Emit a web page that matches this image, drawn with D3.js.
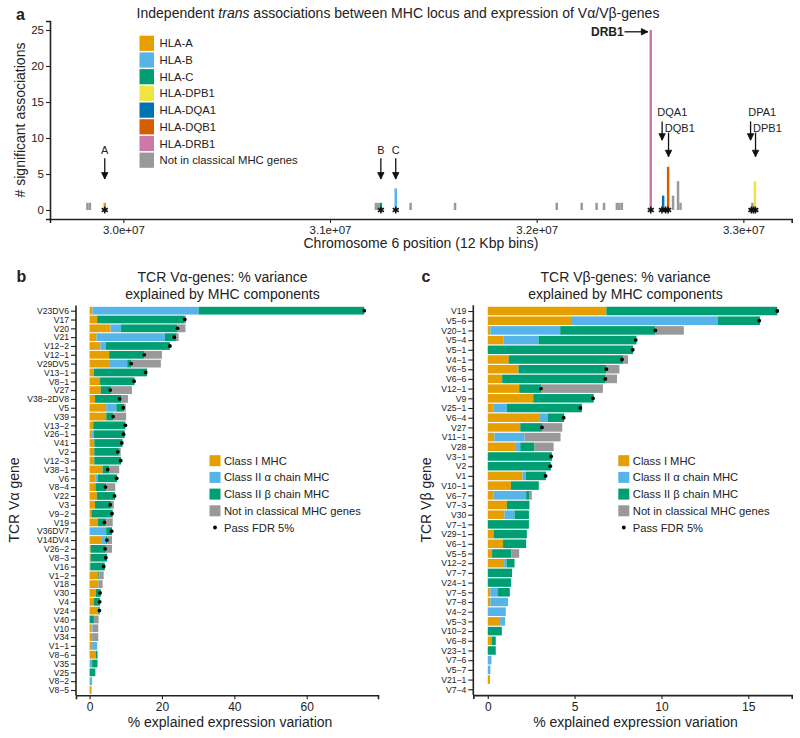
<!DOCTYPE html>
<html><head><meta charset="utf-8">
<script src="https://cdn.jsdelivr.net/npm/d3@7"></script>
<style>
body{margin:0;background:#fff}
svg{display:block}
text{font-family:"Liberation Sans",Arial,Helvetica,sans-serif;fill:#222}
</style>
</head><body>
<svg id="chart" width="800" height="738"></svg>
<script>
// ---------------- Panel a data ----------------
const binPosMb = [29.826, 29.838, 29.910, 31.222, 31.234, 31.246, 31.318, 31.390, 31.605, 32.097, 32.218, 32.290, 32.326, 32.388, 32.400, 32.412, 32.552, 32.612, 32.636, 32.660, 32.684, 32.696, 33.044, 33.056];
const binCount = [1, 1, 1, 1, 1, 1, 3, 1, 1, 1, 1, 1, 1, 1, 1, 1, 25, 2, 6, 2, 4, 1, 1, 4];
const binGene  = ["NA","NA","HLA-A","NA","NA","HLA-C","HLA-B","NA","NA","NA","NA","NA","NA","NA","NA","NA","HLA-DRB1","HLA-DQA1","HLA-DQB1","NA","NA","NA","NA","HLA-DPB1"];
const starPosMb = [29.910, 31.246, 31.318, 32.552, 32.606, 32.624, 32.636, 33.039, 33.049, 33.058];
const legendGenes = ["HLA-A","HLA-B","HLA-C","HLA-DPB1","HLA-DQA1","HLA-DQB1","HLA-DRB1","NA"];
const legendGeneLabels = ["HLA-A","HLA-B","HLA-C","HLA-DPB1","HLA-DQA1","HLA-DQB1","HLA-DRB1","Not in classical MHC genes"];
const geneColors = ["#E69F00","#56B4E9","#009E73","#F0E442","#0072B2","#D55E00","#CC79A7","#999999"];
const aTicks = [3.0e7, 3.1e7, 3.2e7, 3.3e7];
const aTickLabels = ["3.0e+07","3.1e+07","3.2e+07","3.3e+07"];
const aYTicks = [0, 5, 10, 15, 20, 25];

// ---------------- Panel b data (TCR V-alpha) ----------------
const alphaGenes = ["V23DV6","V17","V20","V21","V12−2","V12−1","V29DV5","V13−1","V8−1","V27","V38−2DV8","V5","V39","V13−2","V26−1","V41","V2","V12−3","V38−1","V6","V8−4","V22","V3","V9−2","V19","V36DV7","V14DV4","V26−2","V8−3","V16","V1−2","V18","V30","V4","V24","V40","V10","V34","V1−1","V8−6","V35","V25","V8−2","V8−5"];
const alphaClassI  = [0.8, 2.1, 5.8, 1.9, 3.0, 5.4, 5.4, 1.2, 2.9, 3.1, 1.5, 4.6, 4.6, 1.0, 0.7, 1.3, 1.3, 1.3, 3.6, 1.7, 1.6, 2.0, 1.5, 0.5, 2.3, 0.0, 3.2, 0.3, 0.3, 0.2, 2.4, 2.4, 1.7, 1.2, 2.1, 0.0, 0.5, 0.7, 0.7, 1.7, 0.0, 0.0, 0.0, 0.55];
const alphaClassIIa= [29.3, 0.0, 2.9, 18.9, 1.5, 0.0, 5.0, 0.0, 0.0, 0.0, 0.0, 2.8, 0.0, 0.0, 0.4, 0.0, 0.0, 0.0, 0.0, 0.6, 0.0, 0.0, 0.0, 0.0, 0.0, 4.6, 1.3, 0.0, 0.0, 0.0, 0.0, 0.0, 0.0, 0.0, 0.3, 0.0, 0.4, 0.0, 1.4, 0.0, 0.7, 0.0, 0.7, 0.0];
const alphaClassIIb= [45.8, 24.2, 15.6, 3.1, 17.7, 9.7, 1.1, 14.7, 9.5, 2.8, 7.2, 2.2, 2.0, 8.9, 8.6, 7.8, 6.8, 7.4, 1.8, 5.3, 3.0, 5.0, 4.4, 5.9, 2.2, 1.6, 0.4, 4.2, 4.5, 4.0, 0.3, 0.0, 1.4, 1.7, 0.4, 1.2, 0.0, 0.0, 0.0, 0.5, 1.5, 1.6, 0.0, 0.0];
const alphaOther   = [0.0, 0.3, 2.2, 0.7, 0.0, 4.9, 8.2, 0.0, 0.0, 5.8, 1.9, 0.4, 3.5, 0.0, 0.0, 0.0, 0.5, 0.0, 2.8, 0.0, 2.5, 0.0, 0.8, 0.0, 1.9, 0.0, 1.3, 1.7, 0.0, 0.0, 1.2, 1.2, 0.0, 0.0, 0.0, 1.3, 1.5, 1.7, 0.0, 0.0, 0.0, 0.0, 0.0, 0.0];
const alphaFdr     = [75.9, 26.3, 24.3, 23.4, 22.2, 15.1, 11.5, 15.5, 12.3, 5.7, 8.3, 9.3, 6.5, 9.9, 9.4, 8.9, 7.8, 8.6, 5.0, 7.5, 4.4, 6.9, 5.7, 6.2, 4.1, 6.1, 4.8, 4.3, 4.5, 3.9, null, null, 2.9, 2.8, 2.7, null, null, null, null, null, null, null, null, null];
const bTicks = [0, 20, 40, 60];

// ---------------- Panel c data (TCR V-beta) ----------------
const betaGenes = ["V19","V5−6","V20−1","V5−4","V5−1","V4−1","V6−5","V6−6","V12−1","V9","V25−1","V6−4","V27","V11−1","V28","V3−1","V2","V1","V10−1","V6−7","V7−3","V30","V7−1","V29−1","V6−1","V5−5","V12−2","V7−7","V24−1","V7−5","V7−8","V4−2","V5−3","V10−2","V6−8","V23−1","V7−6","V5−7","V21−1","V7−4"];
const betaClassI   = [6.83, 4.85, 0.15, 0.92, 0.00, 1.21, 1.77, 0.83, 1.81, 2.62, 0.35, 3.00, 1.87, 0.38, 1.62, 0.00, 0.00, 2.00, 1.33, 0.33, 1.10, 0.96, 0.00, 0.33, 0.88, 0.25, 0.94, 0.00, 0.00, 0.15, 0.15, 0.00, 0.71, 0.00, 0.23, 0.00, 0.00, 0.00, 0.13, 0.00];
const betaClassIIa = [0.00, 8.40, 4.02, 2.00, 0.00, 0.00, 0.00, 0.00, 0.00, 0.00, 0.75, 0.46, 0.00, 1.74, 0.25, 0.00, 0.00, 0.19, 0.00, 1.88, 0.00, 0.58, 0.00, 0.00, 0.00, 0.00, 0.14, 0.00, 0.00, 0.41, 1.02, 1.04, 0.29, 0.00, 0.00, 0.00, 0.21, 0.15, 0.00, 0.00];
const betaClassIIb = [9.84, 2.42, 5.48, 5.64, 8.37, 6.58, 5.06, 5.96, 1.27, 3.48, 4.32, 0.94, 1.25, 0.00, 0.82, 3.69, 3.63, 1.16, 1.61, 0.17, 1.30, 0.83, 2.37, 1.92, 1.33, 1.10, 0.46, 1.40, 1.35, 0.71, 0.00, 0.00, 0.00, 0.81, 0.23, 0.46, 0.00, 0.00, 0.00, 0.00];
const betaOther    = [0.00, 0.00, 1.64, 0.00, 0.00, 0.29, 0.75, 0.65, 3.55, 0.00, 0.00, 0.00, 1.17, 2.07, 1.10, 0.00, 0.00, 0.00, 0.00, 0.16, 0.00, 0.00, 0.00, 0.00, 0.00, 0.46, 0.00, 0.00, 0.00, 0.00, 0.00, 0.00, 0.00, 0.00, 0.00, 0.00, 0.00, 0.00, 0.00, 0.00];
const betaFdr      = [16.67, 15.63, 9.65, 8.52, 8.35, 7.73, 6.83, 6.77, 3.06, 6.06, 5.33, 4.37, 3.12, null, null, 3.65, 3.60, 3.33, null, null, null, null, null, null, null, null, null, null, null, null, null, null, null, null, null, null, null, null, null, null];
const cTicks = [0, 5, 10, 15];

// ---------------- shared legend for b/c ----------------
const compKeys = ["classI","classIIa","classIIb","other"];
const compLabels = ["Class I MHC","Class II α chain MHC","Class II β chain MHC","Not in classical MHC genes"];
const compColors = ["#E69F00","#56B4E9","#009E73","#999999"];
const fdrLabel = "Pass FDR 5%";

// =================================================
const svg = d3.select("#chart");
svg.append("rect").attr("width",800).attr("height",738).attr("fill","#fff");
const AXIS = "#222";

function styleAxis(g){
  g.selectAll("path.domain").attr("stroke",AXIS).attr("stroke-width",1.6);
  g.selectAll(".tick line").attr("stroke",AXIS).attr("stroke-width",1.1);
  g.selectAll(".tick text").attr("fill","#333").style("font-family","'Liberation Sans',Arial,sans-serif");
}

// ---------------- Panel a ----------------
(function(){
  const x = d3.scaleLinear().domain([29.645e6, 33.234e6]).range([50, 791.7]);
  const y = d3.scaleLinear().domain([-1.25, 26.25]).range([219, 21]);
  const color = d3.scaleOrdinal().domain(legendGenes).range(geneColors);
  const g = svg.append("g");

  g.append("text").attr("x",16).attr("y",20).attr("font-size",16).attr("font-weight","bold").text("a");
  const t = g.append("text").attr("x",398).attr("y",18).attr("text-anchor","middle").attr("font-size",14);
  t.append("tspan").text("Independent ");
  t.append("tspan").attr("font-style","italic").text("trans");
  t.append("tspan").text(" associations between MHC locus and expression of Vα/Vβ-genes");

  const half = 6000;
  const bins = binPosMb.map((p,i)=>({pos:p*1e6, n:binCount[i], gene:binGene[i]}));
  g.selectAll("rect.bin").data(bins).join("rect")
    .attr("x", d=>x(d.pos-half)).attr("width", d=>x(d.pos+half)-x(d.pos-half))
    .attr("y", d=>y(d.n)).attr("height", d=>y(0)-y(d.n))
    .attr("fill", d=>color(d.gene));

  const star = d3.symbol().type(d3.symbolAsterisk).size(34);
  g.selectAll("path.star").data(starPosMb).join("path")
    .attr("d", star).attr("transform", d=>`translate(${x(d*1e6)},${y(0)})`)
    .attr("stroke","#111").attr("stroke-width",1.5).attr("fill","none");

  const xa = g.append("g").attr("transform","translate(0,219)")
    .call(d3.axisBottom(x).tickValues(aTicks).tickFormat((d,i)=>aTickLabels[i]).tickSizeOuter(0).tickSize(4).tickPadding(3));
  styleAxis(xa); xa.selectAll(".tick text").attr("font-size",11.5);
  const ya = g.append("g").attr("transform","translate(50,0)")
    .call(d3.axisLeft(y).tickValues(aYTicks).tickSizeOuter(0).tickSize(4).tickPadding(2));
  styleAxis(ya); ya.selectAll(".tick text").attr("font-size",11.5);

  g.append("text").attr("x",421).attr("y",248).attr("text-anchor","middle").attr("font-size",14)
    .text("Chromosome 6 position (12 Kbp bins)");
  g.append("text").attr("transform","translate(25,120) rotate(-90)").attr("text-anchor","middle").attr("font-size",14)
    .text("# significant associations");

  // legend
  const lg = g.append("g");
  legendGenes.forEach((gn,i)=>{
    const cy = 43.3 + i*16.7;
    lg.append("rect").attr("x",139.5).attr("y",cy-7.6).attr("width",14.5).attr("height",15.2).attr("fill",geneColors[i]);
    lg.append("text").attr("x",159.5).attr("y",cy).attr("dy","0.36em").attr("font-size",11.3).text(legendGeneLabels[i]);
  });

  // annotations
  function vArrow(mb, v1, v2){
    const xx = x(mb*1e6), y1 = y(v1), y2 = y(v2);
    g.append("line").attr("x1",xx).attr("x2",xx).attr("y1",y1).attr("y2",y2).attr("stroke","#111").attr("stroke-width",1.3);
    g.append("path").attr("d",`M${xx-3.2},${y2-6.5}L${xx},${y2}L${xx+3.2},${y2-6.5}Z`).attr("fill","#111").attr("stroke","#111").attr("stroke-width",0.8);
  }
  function label(mb, v, txt, anchor, size, weight){
    g.append("text").attr("x",x(mb*1e6)).attr("y",y(v)).attr("dy","0.36em").attr("text-anchor",anchor)
      .attr("font-size",size||11).attr("font-weight",weight||"normal").text(txt);
  }
  label(29.910, 8.3, "A", "middle"); vArrow(29.910, 7.2, 4.3);
  label(31.246, 8.3, "B", "middle"); vArrow(31.246, 7.2, 4.3);
  label(31.318, 8.3, "C", "middle"); vArrow(31.318, 7.2, 4.3);
  label(32.584, 13.65, "DQA1", "start"); vArrow(32.607, 12.3, 9.7);
  label(32.620, 11.45, "DQB1", "start"); vArrow(32.638, 10.75, 7.4);
  label(33.024, 13.65, "DPA1", "start"); vArrow(33.035, 12.3, 9.7);
  label(33.047, 11.45, "DPB1", "start"); vArrow(33.059, 10.75, 7.4);
  label(32.421, 24.75, "DRB1", "end", 12, "bold");
  (function(){
    const x1 = x(32.425e6), x2 = x(32.538e6), yy = y(24.75);
    g.append("line").attr("x1",x1).attr("x2",x2).attr("y1",yy).attr("y2",yy).attr("stroke","#111").attr("stroke-width",1.3);
    g.append("path").attr("d",`M${x2-6.5},${yy-3.2}L${x2},${yy}L${x2-6.5},${yy+3.2}Z`).attr("fill","#111").attr("stroke","#111").attr("stroke-width",0.8);
  })();
})();

// ---------------- Panels b & c ----------------
function stackedPanel(opt){
  const g = svg.append("g");
  const rows = opt.genes.map((gn,i)=>({gene:gn, classI:opt.c1[i], classIIa:opt.c2a[i], classIIb:opt.c2b[i], other:opt.oth[i], fdr:opt.fdr[i]}));
  const x = d3.scaleLinear().domain(opt.xdom).range(opt.xr);
  const y = d3.scalePoint().domain(opt.genes).range(opt.yr).padding(0.6);
  const bh = y.step()*0.88;
  const series = d3.stack().keys(compKeys)(rows);
  const col = d3.scaleOrdinal().domain(compKeys).range(compColors);

  g.selectAll("g.ser").data(series).join("g").attr("fill", d=>col(d.key))
    .selectAll("rect").data(d=>d).join("rect")
      .attr("x", d=>x(d[0])).attr("width", d=>Math.max(0, x(d[1])-x(d[0])))
      .attr("y", d=>y(d.data.gene)-bh/2).attr("height", bh);

  g.selectAll("circle.fdr").data(rows.filter(r=>r.fdr!=null)).join("circle")
    .attr("cx", d=>x(d.fdr)).attr("cy", d=>y(d.gene)).attr("r",1.9).attr("fill","#000");

  const xa = g.append("g").attr("transform",`translate(0,${opt.yr[1]})`)
    .call(d3.axisBottom(x).tickValues(opt.ticks).tickSizeOuter(0).tickSize(4).tickPadding(3));
  styleAxis(xa); xa.selectAll(".tick text").attr("font-size",12);
  const ya = g.append("g").attr("transform",`translate(${opt.xr[0]},0)`)
    .call(d3.axisLeft(y).tickSizeOuter(0).tickSize(5).tickPadding(2));
  styleAxis(ya); ya.selectAll(".tick text").attr("font-size",8.6).attr("fill","#222");
  ya.select("path.domain").attr("d",`M0,${opt.yr[0]}V${opt.yr[1]}`);

  g.append("text").attr("x",opt.label[0]).attr("y",281.5).attr("font-size",16).attr("font-weight","bold").text(opt.label[1]);
  g.append("text").attr("x",opt.titleX).attr("y",281.5).attr("text-anchor","middle").attr("font-size",14).text(opt.title1);
  g.append("text").attr("x",opt.titleX).attr("y",298.5).attr("text-anchor","middle").attr("font-size",14).text("explained by MHC components");
  g.append("text").attr("x",(opt.xr[0]+opt.xr[1])/2+3).attr("y",727).attr("text-anchor","middle").attr("font-size",14).text("% explained expression variation");
  g.append("text").attr("transform",`translate(${opt.ytitleX},500) rotate(-90)`).attr("text-anchor","middle").attr("font-size",14).text(opt.ytitle);

  // legend
  const lg = g.append("g");
  compLabels.forEach((lb,i)=>{
    const cy = 460.7 + i*16.7;
    lg.append("rect").attr("x",opt.legX).attr("y",cy-5.5).attr("width",11).attr("height",11).attr("fill",compColors[i]);
    lg.append("text").attr("x",opt.legX+14.5).attr("y",cy).attr("dy","0.36em").attr("font-size",11.2).text(lb);
  });
  const cy = 460.7 + 4*16.7;
  lg.append("circle").attr("cx",opt.legX+5.5).attr("cy",cy).attr("r",1.9).attr("fill","#000");
  lg.append("text").attr("x",opt.legX+14.5).attr("y",cy).attr("dy","0.36em").attr("font-size",11.2).text(fdrLabel);
}

stackedPanel({genes:alphaGenes, c1:alphaClassI, c2a:alphaClassIIa, c2b:alphaClassIIb, oth:alphaOther, fdr:alphaFdr,
  xdom:[-3.75,79.7], xr:[76,378], yr:[305.4,695.3], ticks:bTicks, label:[16.5,"b"], titleX:222.5,
  title1:"TCR Vα-genes: % variance", ytitle:"TCR Vα gene", ytitleX:19, legX:209.5});
stackedPanel({genes:betaGenes, c1:betaClassI, c2a:betaClassIIa, c2b:betaClassIIb, oth:betaOther, fdr:betaFdr,
  xdom:[-0.833,17.5], xr:[473.3,791.7], yr:[305.2,695.1], ticks:cTicks, label:[421.5,"c"], titleX:625.5,
  title1:"TCR Vβ-genes: % variance", ytitle:"TCR Vβ gene", ytitleX:431, legX:618.3});
</script>
</body></html>
